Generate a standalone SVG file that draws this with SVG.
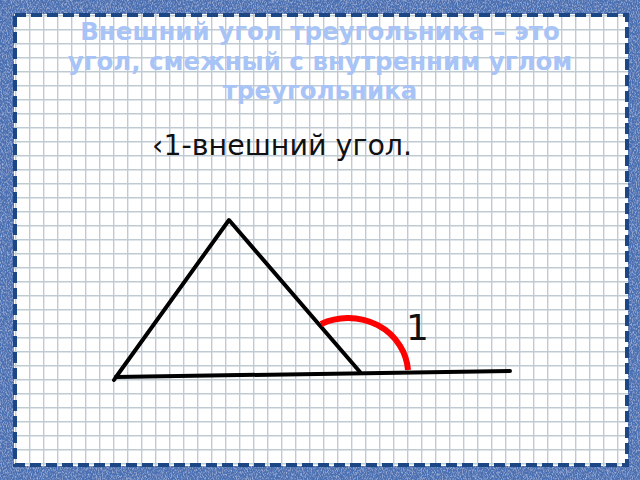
<svg xmlns="http://www.w3.org/2000/svg" width="640" height="480" viewBox="0 0 640 480">
  <defs>
    <pattern id="grid" x="1" y="1" width="14" height="14" patternUnits="userSpaceOnUse">
      <path d="M0.7 0 V14 M0 0.7 H14" stroke="#bfcbd3" stroke-width="1.4" fill="none"/>
    </pattern>
    <filter id="denim" x="0" y="0" width="100%" height="100%">
      <feTurbulence type="fractalNoise" baseFrequency="1.2 0.5" numOctaves="2" seed="3" result="n"/>
      <feColorMatrix in="n" type="matrix" values="0 0 0 0 0.58  0 0 0 0 0.68  0 0 0 0 0.88  0 0 0 1.4 -0.62" result="spk"/>
      <feComposite in="spk" in2="SourceGraphic" operator="over"/>
    </filter>
    <style>
      .title { font-family: "DejaVu Sans", "Liberation Sans", sans-serif; font-weight: bold; font-size: 24.5px; fill: #a8c4f7; text-anchor: middle; }
      .lbl { font-family: "DejaVu Sans", "Liberation Sans", sans-serif; font-size: 28.5px; fill: #111; }
      .edge { stroke: #000; stroke-width: 4; stroke-linecap: round; stroke-linejoin: round; fill: none; }
    </style>
  </defs>

  <g id="frame">
    <rect x="0" y="0" width="640" height="480" fill="#4a6fb2" filter="url(#denim)"/>
    <rect x="14" y="14" width="614" height="452" fill="#ffffff"/>
    <rect x="14" y="14" width="614" height="452" fill="url(#grid)"/>
    <rect x="15" y="15" width="612" height="450" fill="none" stroke="#1d4784" stroke-width="4" stroke-dasharray="11 5"/>
  </g>

  <g id="title">
    <text class="title" x="320" y="40">Внешний угол треугольника – это</text>
    <text class="title" x="320" y="70">угол, смежный с внутренним углом</text>
    <text class="title" x="320" y="99">треугольника</text>
  </g>

  <g id="caption">
    <text class="lbl" x="152" y="155">‹1-внешний угол.</text>
  </g>

  <g id="connectors">
    <path class="edge" d="M116 377 L229 220 L360 372"/>
    <path class="edge" d="M116 377 L510 371"/>
    <path class="edge" d="M116 377 L114 380"/>
  </g>

  <g id="angle-1">
    <path d="M321 324 A60 56 0 0 1 408 370" fill="none" stroke="#ff0000" stroke-width="6"/>
    <text x="406" y="340" style="font-family: 'DejaVu Sans', 'Liberation Sans', sans-serif; font-size: 36px; fill: #111;">1</text>
  </g>
</svg>
